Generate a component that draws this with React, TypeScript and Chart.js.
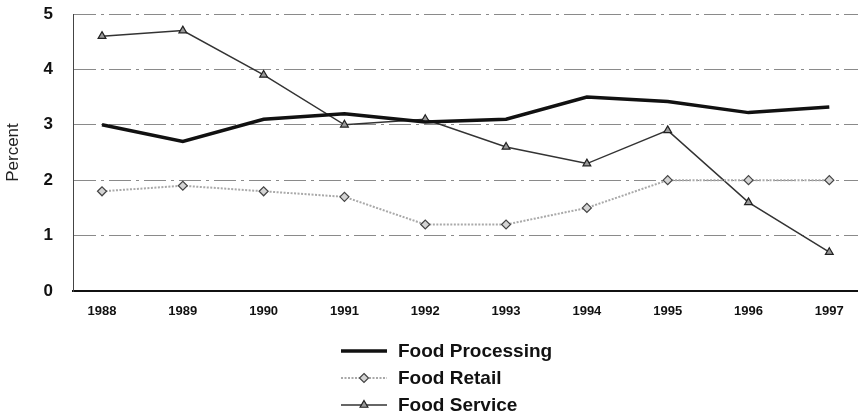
import React, { useEffect, useRef } from "react";
import { Chart, registerables } from "chart.js";

Chart.register(...registerables);

const years = [1988, 1989, 1990, 1991, 1992, 1993, 1994, 1995, 1996, 1997];
const foodProcessing = [3.0, 2.7, 3.1, 3.2, 3.05, 3.1, 3.5, 3.42, 3.22, 3.32];
const foodRetail = [1.8, 1.9, 1.8, 1.7, 1.2, 1.2, 1.5, 2.0, 2.0, 2.0];
const foodService = [4.6, 4.7, 3.9, 3.0, 3.1, 2.6, 2.3, 2.9, 1.6, 0.7];
const yTicks = [0, 1, 2, 3, 4, 5];
const seriesLabels = ["Food Processing", "Food Retail", "Food Service"];

const FONT = '"Liberation Sans", Arial, sans-serif';

function drawMarker(ctx: CanvasRenderingContext2D, style: string, x: number, y: number, r: number) {
  ctx.beginPath();
  if (style === "triangle") {
    let rad = 0;
    ctx.moveTo(x + Math.sin(rad) * r, y - Math.cos(rad) * r);
    rad += (2 * Math.PI) / 3;
    ctx.lineTo(x + Math.sin(rad) * r, y - Math.cos(rad) * r);
    rad += (2 * Math.PI) / 3;
    ctx.lineTo(x + Math.sin(rad) * r, y - Math.cos(rad) * r);
    ctx.closePath();
  } else if (style === "rectRot") {
    ctx.moveTo(x, y - r);
    ctx.lineTo(x + r, y);
    ctx.lineTo(x, y + r);
    ctx.lineTo(x - r, y);
    ctx.closePath();
  } else {
    return;
  }
  ctx.fill();
  ctx.stroke();
}

// stretch the plot area to the right edge of the canvas (as in the original)
const fullRight = {
  id: "fullRight",
  afterLayout(chart: any) {
    const area = chart.chartArea;
    const right = chart.width;
    area.right = right;
    area.width = right - area.left;
    const x = chart.scales.x;
    x.right = right;
    x.width = right - x.left;
    x.configure();
  },
};

const verticalLegend = {
  id: "verticalLegend",
  afterDraw(chart: any) {
    const ctx: CanvasRenderingContext2D = chart.ctx;
    const startY = 351;
    const rowGap = 27;
    const lineX0 = 341;
    const lineX1 = 387;
    const textX = 398;
    chart.data.datasets.forEach((ds: any, i: number) => {
      const y = startY + i * rowGap;
      ctx.save();
      ctx.strokeStyle = ds.borderColor;
      ctx.lineWidth = ds.borderWidth;
      ctx.setLineDash(ds.borderDash || []);
      ctx.beginPath();
      ctx.moveTo(lineX0, y);
      ctx.lineTo(lineX1, y);
      ctx.stroke();
      ctx.setLineDash([]);
      if (ds.pointRadius > 0) {
        ctx.fillStyle = ds.pointBackgroundColor;
        ctx.strokeStyle = ds.pointBorderColor;
        ctx.lineWidth = ds.pointBorderWidth;
        drawMarker(ctx, ds.pointStyle, (lineX0 + lineX1) / 2, y, ds.pointRadius);
      }
      ctx.fillStyle = "#111";
      ctx.font = `bold 19px ${FONT}`;
      ctx.textBaseline = "middle";
      ctx.textAlign = "left";
      ctx.fillText(ds.label, textX, y + 1);
      ctx.restore();
    });
  },
};

export default function App() {
  const ref = useRef<HTMLCanvasElement>(null);

  useEffect(() => {
    Chart.defaults.font.family = FONT;
    const toPts = (arr: number[]) => arr.map((v, i) => ({ x: years[i], y: v }));
    const chart = new Chart(ref.current as HTMLCanvasElement, {
      type: "line",
      data: {
        datasets: [
          {
            label: seriesLabels[0],
            data: toPts(foodProcessing),
            borderColor: "#111111",
            borderWidth: 3.5,
            pointRadius: 0,
            pointStyle: "circle",
            tension: 0,
          },
          {
            label: seriesLabels[1],
            data: toPts(foodRetail),
            borderColor: "#a9a9a9",
            borderWidth: 2,
            borderDash: [2, 1.5],
            pointStyle: "rectRot",
            pointRadius: 4.5,
            pointBackgroundColor: "#d4d4d4",
            pointBorderColor: "#444444",
            pointBorderWidth: 1.2,
            tension: 0,
          },
          {
            label: seriesLabels[2],
            data: toPts(foodService),
            borderColor: "#333333",
            borderWidth: 1.5,
            pointStyle: "triangle",
            pointRadius: 4.5,
            pointBackgroundColor: "#9a9a9a",
            pointBorderColor: "#222222",
            pointBorderWidth: 1.2,
            tension: 0,
          },
        ] as any,
      },
      options: {
        animation: false,
        responsive: false,
        layout: { padding: { top: 14, right: 0, bottom: 85, left: 0 } },
        plugins: {
          legend: { display: false },
          tooltip: { enabled: false },
        },
        scales: {
          x: {
            type: "linear",
            min: 1987.641,
            max: 1997.355,
            afterBuildTicks: (s: any) => {
              s.ticks = years.map((v) => ({ value: v }));
            },
            afterFit: (s: any) => {
              s.height = 40;
              s.paddingLeft = 0;
              s.paddingRight = 0;
            },
            ticks: {
              font: { size: 13, weight: "bold" },
              color: "#111",
              padding: 5,
              maxRotation: 0,
              autoSkip: false,
              callback: (v: any) => String(v),
            },
            grid: { display: false },
            border: { display: true, color: "#111", width: 2 },
          },
          y: {
            min: 0,
            max: 5,
            afterBuildTicks: (s: any) => {
              s.ticks = yTicks.map((v) => ({ value: v }));
            },
            afterFit: (s: any) => {
              s.width = 73;
              s.paddingTop = 0;
              s.paddingBottom = 0;
            },
            ticks: {
              font: { size: 17, weight: "bold" },
              color: "#111",
              padding: 20,
            },
            grid: {
              drawTicks: false,
              color: (c: any) => (c.tick && c.tick.value === 0 ? "rgba(0,0,0,0)" : "#8a8a8a"),
              lineWidth: 1,
            },
            border: { display: true, color: "#444", width: 1, dash: [22, 5, 3, 5] },
            title: {
              display: true,
              text: "Percent",
              font: { size: 17 },
              color: "#222",
              padding: { top: 3, bottom: 0 },
            },
          },
        },
      } as any,
      plugins: [fullRight, verticalLegend],
    });
    return () => chart.destroy();
  }, []);

  return (
    <div style={{ position: "absolute", left: 0, top: 0, width: 858, height: 416, background: "#fff" }}>
      <canvas ref={ref} width={858} height={416} style={{ width: 858, height: 416, display: "block" }} />
    </div>
  );
}
